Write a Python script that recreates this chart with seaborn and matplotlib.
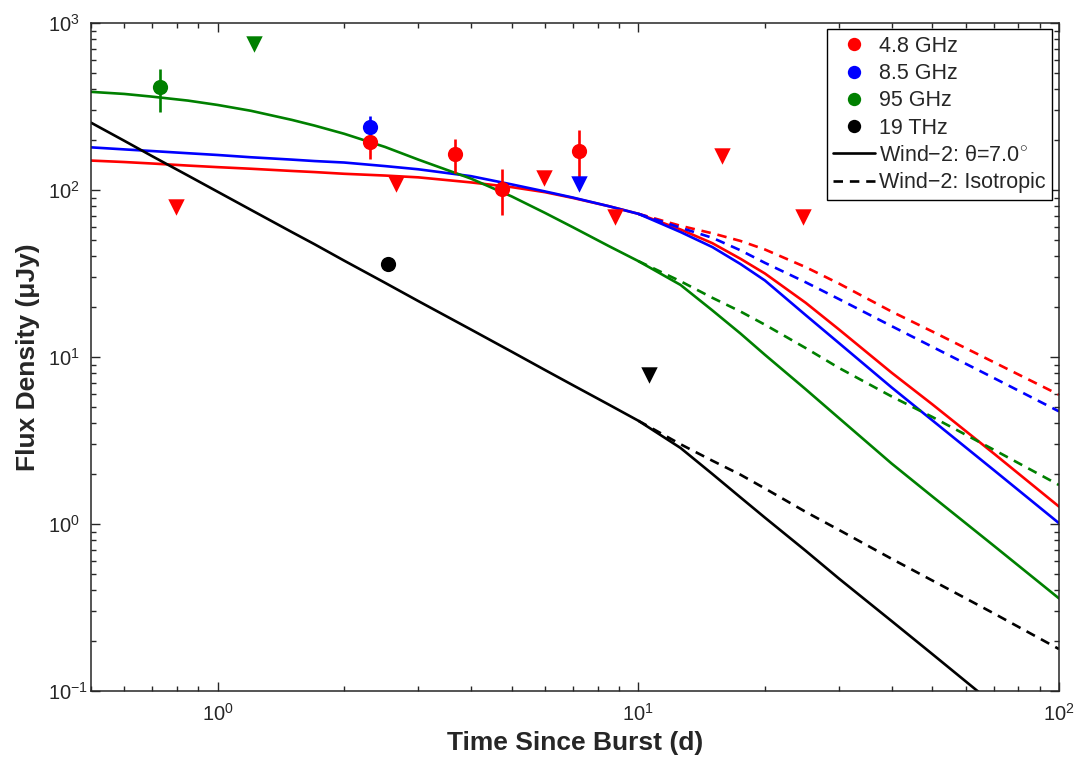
import matplotlib
matplotlib.use("Agg")
import matplotlib.pyplot as plt
import seaborn as sns
from matplotlib.lines import Line2D
from matplotlib.ticker import LogLocator, NullFormatter

# ---- model light curves ----
t_model = [0.5, 0.6, 0.7, 0.85, 1, 1.2, 1.5, 1.7, 2, 2.5, 3, 4, 5, 6, 7, 8.5, 10,
           12.6, 15, 17.5, 20, 25, 30, 40, 50, 70, 100]
jet_48 = [150, 147, 144, 140, 137, 134, 130, 128, 125, 122, 119, 111, 104, 97, 89.5, 80, 72,
          58, 48, 38.7, 31.6, 21.1, 14.6, 8.05, 5.2, 2.64, 1.27]
jet_85 = [180, 175, 171, 166, 162, 157, 152, 149, 146, 139, 133, 121, 108, 98, 90, 80, 72,
          56, 45.5, 36, 28.7, 17.8, 12.1, 6.57, 4.17, 2.1, 1.01]
jet_95 = [387, 376, 362, 343, 323, 298, 263, 243, 217, 181, 152, 117, 91.5, 72.9, 59.7, 46.2, 37.5,
          27.0, 19.0, 13.8, 10.3, 6.4, 4.3, 2.3, 1.46, 0.74, 0.358]
jet_19 = [253, 197, 159, 122, 97.6, 76, 56.0, 47.3, 37.7, 27.8, 21.6, 14.6, 10.75, 8.35, 6.76, 5.19, 4.15,
          2.85, 1.99, 1.44, 1.09, 0.69, 0.47, 0.262, 0.166, 0.083, 0.039]

t_iso = [10, 12.6, 15, 17.5, 20, 25, 30, 40, 50, 70, 100]
iso_48 = [72, 61, 55, 49.5, 44, 34.5, 27.5, 18.7, 14.2, 9.3, 5.94]
iso_85 = [72, 59.4, 51.7, 43.5, 36.6, 28.0, 22.2, 15.3, 11.5, 7.48, 4.72]
iso_95 = [37.5, 28.4, 22.6, 18.7, 15.6, 11.3, 8.59, 5.8, 4.37, 2.78, 1.71]
iso_19 = [4.15, 3.0, 2.39, 1.97, 1.63, 1.18, 0.92, 0.618, 0.458, 0.291, 0.178]

# ---- detections: time, flux, error ----
det_48_t = [2.3, 3.67, 4.75, 7.23]
det_48_f = [194, 164, 102, 170]
det_48_e = [41, 38, 31, 60]
det_85_t = [2.3]
det_85_f = [237]
det_85_e = [40]
det_95_t = [0.728]
det_95_f = [414]
det_95_e = [120]
det_19_t = [2.54]
det_19_f = [35.9]
det_19_e = [2]

# ---- upper limits ----
ul_48_t = [0.796, 2.66, 5.97, 8.79, 15.8, 24.7]
ul_48_f = [78.7, 109, 118, 69, 159, 69]
ul_85_t = [7.21]
ul_85_f = [108]
ul_95_t = [1.22]
ul_95_f = [750]
ul_19_t = [10.6]
ul_19_f = [7.83]

bands = ["4.8 GHz", "8.5 GHz", "95 GHz", "19 THz"]
colors = ["#ff0000", "#0000ff", "#008000", "#000000"]

sns.set_style("ticks")
plt.rcParams["font.family"] = ["Liberation Sans", "DejaVu Sans"]
plt.rcParams["mathtext.fontset"] = "custom"
plt.rcParams["mathtext.rm"] = "Liberation Sans"
plt.rcParams["mathtext.it"] = "Liberation Sans:italic"

fig = plt.figure(figsize=(10.82, 7.57), dpi=100)
ax = fig.add_axes([0.0841, 0.0874, 0.8946, 0.8822])
ax.set_xscale("log")
ax.set_yscale("log")

lw = 1.9
dash = (0, (3.6, 2.6))
jets = [jet_48, jet_85, jet_95, jet_19]
isos = [iso_48, iso_85, iso_95, iso_19]
for c, jet, iso in zip(colors, jets, isos):
    sns.lineplot(x=t_model, y=jet, color=c, lw=lw, ax=ax, estimator=None, sort=False)
    sns.lineplot(x=t_iso, y=iso, color=c, lw=lw, ax=ax, estimator=None, sort=False,
                 linestyle=dash)

dets = [(det_48_t, det_48_f, det_48_e), (det_85_t, det_85_f, det_85_e),
        (det_95_t, det_95_f, det_95_e), (det_19_t, det_19_f, det_19_e)]
uls = [(ul_48_t, ul_48_f), (ul_85_t, ul_85_f), (ul_95_t, ul_95_f), (ul_19_t, ul_19_f)]

# red points drawn before blue so blue sits on top at t=2.3
for c, (t, f, e) in zip(colors, dets):
    ax.errorbar(t, f, yerr=e, fmt="none", ecolor=c, elinewidth=1.9, capsize=0)
    sns.scatterplot(x=t, y=f, color=c, s=120, marker="o", linewidth=0, ax=ax, zorder=3)
for c, (t, f) in zip(colors, uls):
    sns.scatterplot(x=t, y=f, color=c, s=140, marker="v", linewidth=0, ax=ax, zorder=3)

ax.set_xlim(0.5, 100)
ax.set_ylim(0.1, 1000)
ax.xaxis.set_major_locator(LogLocator(base=10, numticks=10))
ax.xaxis.set_minor_locator(LogLocator(base=10, subs=range(2, 10), numticks=20))
ax.yaxis.set_minor_locator(LogLocator(base=10, subs=range(2, 10), numticks=20))
ax.xaxis.set_minor_formatter(NullFormatter())
ax.yaxis.set_minor_formatter(NullFormatter())
ax.tick_params(which="both", direction="in", top=True, right=True, labelsize=14.5, width=1)
ax.tick_params(which="major", length=6.5)
ax.tick_params(which="minor", length=3.3)
# y tick labels are left-aligned in the reference
ax.tick_params(axis="y", which="major", pad=31)
ax.tick_params(axis="x", which="major", pad=9)
for lab in ax.get_yticklabels():
    lab.set_horizontalalignment("left")
for s in ax.spines.values():
    s.set_linewidth(1.1)
    s.set_visible(True)

ax.set_xlabel("Time Since Burst (d)", fontsize=19, fontweight="bold", labelpad=4)
ax.set_ylabel("Flux Density (μJy)", fontsize=19, fontweight="bold", labelpad=6)

handles = [Line2D([], [], color=c, marker="o", ls="none", markersize=9.6, markeredgewidth=0)
           for c in colors]
handles += [Line2D([], [], color="k", lw=lw),
            Line2D([], [], color="k", lw=lw, ls=dash)]
labels = bands + ["Wind\u22122: θ=7.0$^{\\circ}$", "Wind\u22122: Isotropic"]
leg = ax.legend(handles, labels, loc="upper right", fontsize=15.5, frameon=True, fancybox=False,
                edgecolor="k", framealpha=1, labelspacing=0.29, handlelength=1.95,
                handletextpad=0.2, borderpad=0.3, borderaxespad=0.3)
leg.get_frame().set_linewidth(1.0)

fig.savefig("out.png", dpi=100)
